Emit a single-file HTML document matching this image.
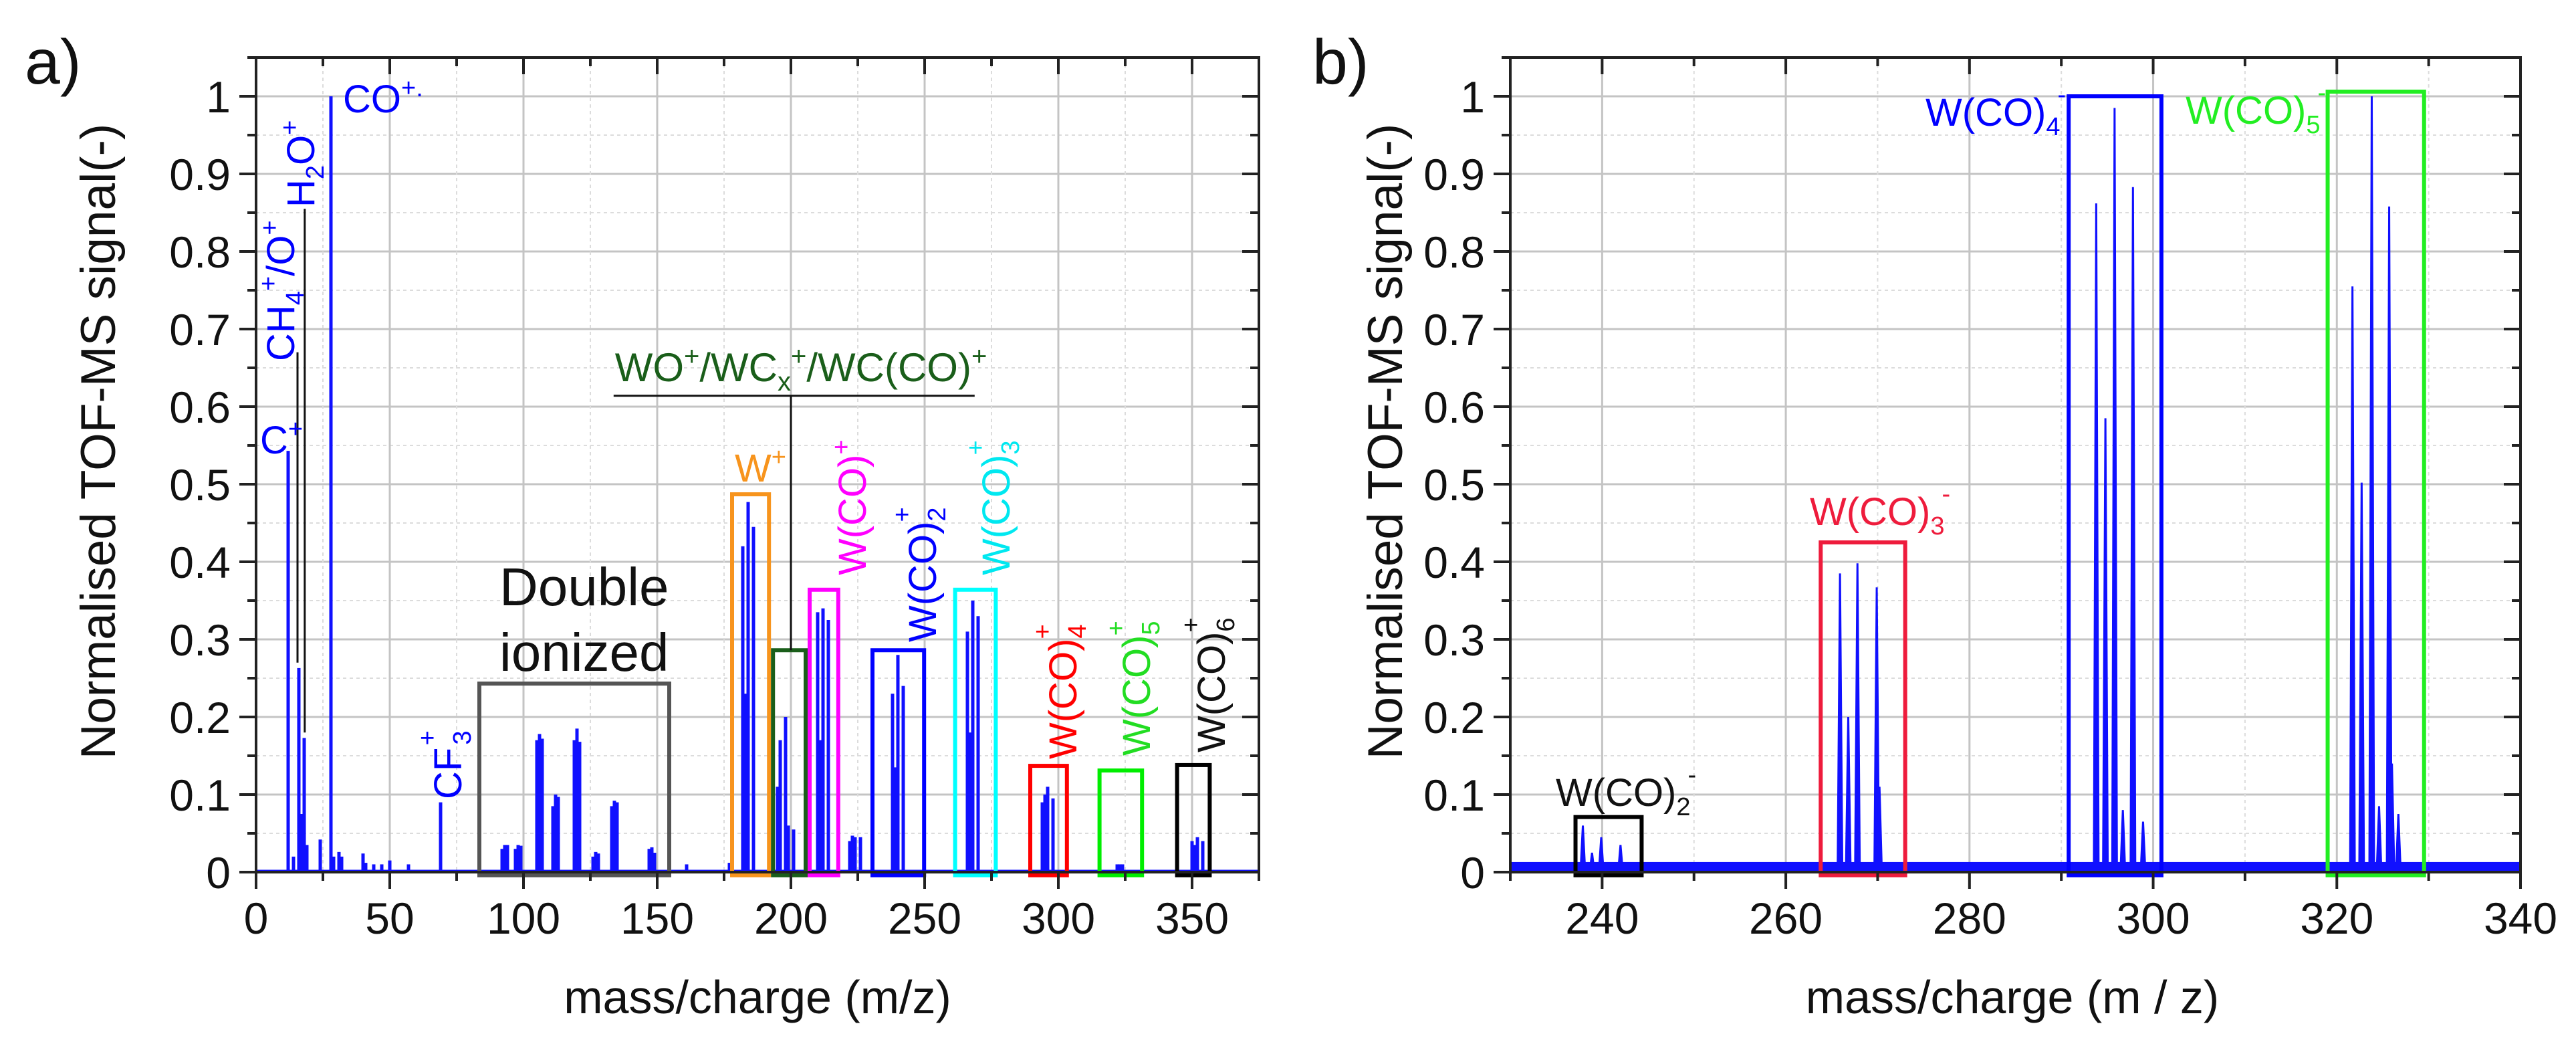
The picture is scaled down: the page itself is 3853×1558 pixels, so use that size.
<!DOCTYPE html>
<html><head><meta charset="utf-8"><style>
html,body{margin:0;padding:0;background:#fff;}
svg{display:block;font-family:"Liberation Sans",Arial,sans-serif;}
</style></head><body>
<svg id="fig" width="3853" height="1558" viewBox="0 0 3853 1558" xmlns="http://www.w3.org/2000/svg">
<g id="panelA"></g>
<g id="panelB"></g>
</svg>
<script>
// ---------- Panel a data ----------
const mzA = [12,14,16,17,18,19,24,28,29,31,32,40,41,44,47,50,57,69,
 92,93,94,97,98,99,105,106,107,111,112,113,119,120,121,126,127,128,133,134,135,147,148,149,161,177,
 182,183,184,186,195,196,198,199,201,210,211,212,214,222,223,224,226,238,239,240,242,
 266,267,268,270,294,295,296,298,322,323,324,350,351,352,354];
const intA = [0.543,0.02,0.263,0.075,0.173,0.035,0.042,1.0,0.02,0.026,0.02,0.024,0.012,0.01,0.01,0.015,0.01,0.09,
 0.03,0.035,0.035,0.03,0.035,0.034,0.17,0.178,0.172,0.085,0.1,0.097,0.17,0.185,0.168,0.02,0.026,0.024,0.085,0.092,0.09,0.03,0.032,0.025,0.01,0.012,
 0.42,0.23,0.477,0.445,0.11,0.17,0.2,0.06,0.055,0.335,0.17,0.34,0.325,0.04,0.047,0.045,0.045,0.23,0.135,0.28,0.24,
 0.31,0.18,0.35,0.33,0.09,0.1,0.11,0.095,0.01,0.01,0.01,0.04,0.035,0.045,0.04];
const xTicksA = [0,50,100,150,200,250,300,350];
const yTicks = [0,0.1,0.2,0.3,0.4,0.5,0.6,0.7,0.8,0.9,1];
const yTickLabels = ["0","0.1","0.2","0.3","0.4","0.5","0.6","0.7","0.8","0.9","1"];
const boxNamesA = ["double-ionized-box","w-plus-box","wo-wc-box","wco-plus-box","wco2-plus-box","wco3-plus-box","wco4-plus-box","wco5-plus-box","wco6-plus-box"];
const boxStartA = [83.5,178,193.3,207,230.5,261.4,289.5,315.4,344.4];
const boxEndA = [154.5,191.8,205.5,217.7,249.8,276.6,303.2,331.3,356.6];
const boxTopA = [0.243,0.487,0.286,0.364,0.286,0.364,0.137,0.131,0.138];
const boxColA = ["#555555","#f7941d","#1a5e1a","#ff00ff","#0000ff","#00ffff","#ff0000","#00ee00","#000000"];

// ---------- Panel b data ----------
const mzB = [237.9,238.9,239.9,242,265.9,266.8,267.8,269.9,270.2,293.8,294.8,295.8,296.7,297.8,298.9,321.7,322.7,323.8,324.6,325.7,326.0,326.7];
const intB = [0.06,0.025,0.045,0.035,0.385,0.2,0.398,0.367,0.11,0.862,0.585,0.985,0.08,0.883,0.065,0.755,0.502,1.0,0.085,0.858,0.14,0.075];
const baselineB = 0.013;
const xTicksB = [240,260,280,300,320,340];
const boxNamesB = ["wco2-minus-box","wco3-minus-box","wco4-minus-box","wco5-minus-box"];
const boxStartB = [237.1,263.8,290.8,319.0];
const boxEndB = [244.3,273.0,300.9,329.5];
const boxTopB = [0.071,0.425,1.0,1.006];
const boxColB = ["#000000","#ee1c3c","#0000ff","#22ee22"];

const NS="http://www.w3.org/2000/svg";
const Y0=1304, YPX=1160, YTOP=1304-1.05*1160;
function yS(v){return Y0 - v*YPX;}
const axA={x0:383,x1:1883,min:0,max:375};
const axB={x0:2259,x1:3770,min:230,max:340};
function xS(ax,m){return ax.x0+(m-ax.min)/(ax.max-ax.min)*(ax.x1-ax.x0);}
function mk(parent,tag,attrs,name,txt){
  const e=document.createElementNS(NS,tag);
  for(const k in attrs)e.setAttribute(k,attrs[k]);
  
  
  if(txt!==undefined)e.textContent=txt;
  parent.appendChild(e);return e;
}
function axes(g,ax,xt,xminor){
  yTicks.forEach(v=>{mk(g,'line',{x1:ax.x0,x2:ax.x1,y1:yS(v),y2:yS(v),stroke:'#c4c4c4','stroke-width':3},'y-gridline');});
  for(let v=0.05;v<1.05;v+=0.1){mk(g,'line',{x1:ax.x0,x2:ax.x1,y1:yS(v),y2:yS(v),stroke:'#dcdcdc','stroke-width':2,'stroke-dasharray':'5 5'},'y-minor-gridline');}
  xt.forEach(m=>{mk(g,'line',{x1:xS(ax,m),x2:xS(ax,m),y1:YTOP,y2:Y0,stroke:'#c4c4c4','stroke-width':3},'x-gridline');});
  xminor.forEach(m=>{mk(g,'line',{x1:xS(ax,m),x2:xS(ax,m),y1:YTOP,y2:Y0,stroke:'#dcdcdc','stroke-width':2,'stroke-dasharray':'5 5'},'x-minor-gridline');});
}
function frame(g,ax,xt,xminor){
  mk(g,'rect',{x:ax.x0,y:YTOP,width:ax.x1-ax.x0,height:Y0-YTOP,fill:'none',stroke:'#222','stroke-width':4},'plot-frame');
  yTicks.forEach((v,i)=>{
    mk(g,'line',{x1:ax.x0-25,x2:ax.x0,y1:yS(v),y2:yS(v),stroke:'#222','stroke-width':4},'y-tick');
    mk(g,'line',{x1:ax.x1-25,x2:ax.x1,y1:yS(v),y2:yS(v),stroke:'#222','stroke-width':4},'y-tick-right');
    mk(g,'text',{x:ax.x0-38,y:yS(v)+24,'font-size':66,'text-anchor':'end',fill:'#111'},'y-tick-label',yTickLabels[i]);
  });
  for(let v=0.05;v<1.05;v+=0.1){
    mk(g,'line',{x1:ax.x0-13,x2:ax.x0,y1:yS(v),y2:yS(v),stroke:'#222','stroke-width':4},'y-minor-tick');
    mk(g,'line',{x1:ax.x1-13,x2:ax.x1,y1:yS(v),y2:yS(v),stroke:'#222','stroke-width':4},'y-minor-tick-right');
  }
  xt.forEach(m=>{
    mk(g,'line',{x1:xS(ax,m),x2:xS(ax,m),y1:Y0,y2:Y0+25,stroke:'#222','stroke-width':4},'x-tick');
    mk(g,'line',{x1:xS(ax,m),x2:xS(ax,m),y1:YTOP,y2:YTOP+25,stroke:'#222','stroke-width':4},'x-tick-top');
    mk(g,'text',{x:xS(ax,m),y:Y0+92,'font-size':66,'text-anchor':'middle',fill:'#111'},'x-tick-label',String(m));
  });
  xminor.forEach(m=>{
    mk(g,'line',{x1:xS(ax,m),x2:xS(ax,m),y1:Y0,y2:Y0+13,stroke:'#222','stroke-width':4},'x-minor-tick');
    mk(g,'line',{x1:xS(ax,m),x2:xS(ax,m),y1:YTOP,y2:YTOP+13,stroke:'#222','stroke-width':4},'x-minor-tick-top');
  });
}
const gA=document.getElementById('panelA'), gB=document.getElementById('panelB');
const minorA=[25,75,125,175,225,275,325,375], minorB=[230,250,270,290,310,330];
axes(gA,axA,xTicksA,minorA); axes(gB,axB,xTicksB,minorB);

mk(gA,'line',{x1:xS(axA,0),x2:xS(axA,375),y1:yS(0)-1,y2:yS(0)-1,stroke:'#1010ff','stroke-width':5},'spectrum-baseline');
mzA.forEach((m,i)=>{
  mk(gA,'line',{x1:xS(axA,m),x2:xS(axA,m),y1:yS(0),y2:yS(intA[i]),stroke:'#1010ff','stroke-width':5},'spectrum-peak');
});
boxStartA.forEach((s,i)=>{
  const x=xS(axA,s), w=xS(axA,boxEndA[i])-x;
  mk(gA,'rect',{x:x,y:yS(boxTopA[i]),width:w,height:yS(-0.004)-yS(boxTopA[i]),fill:'none',stroke:boxColA[i],'stroke-width':6},boxNamesA[i]);
});
mk(gB,'rect',{x:axB.x0,y:yS(baselineB),width:axB.x1-axB.x0,height:yS(0)-yS(baselineB),fill:'#1010ff'},'spectrum-baseline');
mzB.forEach((m,i)=>{
  const x=xS(axB,m), h=3.5;
  mk(gB,'polygon',{points:`${x-h},${yS(0)} ${x},${yS(intB[i])} ${x+h},${yS(0)}`,fill:'#1010ff',stroke:'#1010ff','stroke-width':3,'stroke-linejoin':'miter'},'spectrum-peak');
});
boxStartB.forEach((s,i)=>{
  const x=xS(axB,s), w=xS(axB,boxEndB[i])-x;
  mk(gB,'rect',{x:x,y:yS(boxTopB[i]),width:w,height:yS(-0.004)-yS(boxTopB[i]),fill:'none',stroke:boxColB[i],'stroke-width':6},boxNamesB[i]);
});
frame(gA,axA,xTicksA,minorA); frame(gB,axB,xTicksB,minorB);

mk(gA,'line',{x1:xS(axA,133.7),x2:xS(axA,268.7),y1:yS(0.614),y2:yS(0.614),stroke:'#111','stroke-width':3},'wo-bracket-line');
mk(gA,'line',{x1:xS(axA,200),x2:xS(axA,200),y1:yS(0.614),y2:yS(0.286),stroke:'#111','stroke-width':3},'wo-pointer-line');
mk(gA,'line',{x1:xS(axA,15.5),x2:xS(axA,15.5),y1:yS(0.67),y2:yS(0.27),stroke:'#111','stroke-width':3},'ch4-pointer-line');
mk(gA,'line',{x1:xS(axA,18.2),x2:xS(axA,18.2),y1:yS(0.855),y2:yS(0.18),stroke:'#111','stroke-width':3},'h2o-pointer-line');
</script>
<svg style="position:absolute;left:0;top:0" width="3853" height="1558" viewBox="0 0 3853 1558" xmlns="http://www.w3.org/2000/svg" font-family="Liberation Sans, Arial, sans-serif">
<text x="37" y="125" font-size="95" fill="#111">a)</text>
<text x="1963" y="125" font-size="95" fill="#111">b)</text>
<text transform="translate(172,660) rotate(-90)" text-anchor="middle" font-size="73" fill="#111">Normalised TOF-MS signal(-)</text>
<text transform="translate(2097,660) rotate(-90)" text-anchor="middle" font-size="73" fill="#111">Normalised TOF-MS signal(-)</text>
<text x="1133" y="1515" text-anchor="middle" font-size="70" fill="#111">mass/charge (m/z)</text>
<text x="3010" y="1515" text-anchor="middle" font-size="70" fill="#111">mass/charge (m / z)</text>

<g fill="#0000ff" font-size="58">
<text x="389" y="678">C<tspan font-size="38" dy="-24">+</tspan></text>
<text x="513" y="168">CO<tspan font-size="38" dy="-24">+.</tspan></text>
<text transform="translate(440,540) rotate(-90)">CH<tspan font-size="38" dy="14">4</tspan><tspan font-size="38" dy="-40">+</tspan><tspan dy="26">/O</tspan><tspan font-size="38" dy="-24">+</tspan></text>
<text transform="translate(470,310) rotate(-90)">H<tspan font-size="38" dy="14">2</tspan><tspan dy="-14">O</tspan><tspan font-size="38" dy="-24">+</tspan></text>
<text transform="translate(690,1195) rotate(-90)">CF<tspan font-size="38" dx="4" dy="14">3</tspan><tspan font-size="38" dx="-22" dy="-52">+</tspan></text>
</g>
<text x="1099" y="720" font-size="58" fill="#f7941d">W<tspan font-size="38" dy="-24">+</tspan></text>
<text transform="translate(1295,860) rotate(-90)" font-size="58" fill="#ff00ff">W(CO)<tspan font-size="38" dy="-24">+</tspan></text>
<text transform="translate(1400,960) rotate(-90)" font-size="58" fill="#0000ff">W(CO)<tspan font-size="38" dy="14">2</tspan><tspan font-size="38" dx="-22" dy="-52">+</tspan></text>
<text transform="translate(1510,860) rotate(-90)" font-size="58" fill="#00e8f0">W(CO)<tspan font-size="38" dy="14">3</tspan><tspan font-size="38" dx="-22" dy="-52">+</tspan></text>
<text transform="translate(1610,1135) rotate(-90)" font-size="58" fill="#ff0000">W(CO)<tspan font-size="38" dy="14">4</tspan><tspan font-size="38" dx="-22" dy="-52">+</tspan></text>
<text transform="translate(1720,1130) rotate(-90)" font-size="58" fill="#22dd22">W(CO)<tspan font-size="38" dy="14">5</tspan><tspan font-size="38" dx="-22" dy="-52">+</tspan></text>
<text transform="translate(1832,1125) rotate(-90)" font-size="58" fill="#111">W(CO)<tspan font-size="38" dy="14">6</tspan><tspan font-size="38" dx="-22" dy="-52">+</tspan></text>
<text x="1198" y="570" text-anchor="middle" font-size="60" fill="#1a5e1a">WO<tspan font-size="40" dy="-24">+</tspan><tspan dy="24">/WC</tspan><tspan font-size="40" dy="14">x</tspan><tspan font-size="40" dy="-38">+</tspan><tspan dy="24">/WC(CO)</tspan><tspan font-size="40" dy="-24">+</tspan></text>
<text x="747" y="905" font-size="80" fill="#111">Double</text>
<text x="747" y="1003" font-size="80" fill="#111">ionized</text>

<text x="2327" y="1205" font-size="58" fill="#111">W(CO)<tspan font-size="38" dy="14">2</tspan><tspan font-size="38" dx="-4" dy="-48">-</tspan></text>
<text x="2707" y="785" font-size="58" fill="#ee1c3c">W(CO)<tspan font-size="38" dy="14">3</tspan><tspan font-size="38" dx="-4" dy="-48">-</tspan></text>
<text x="2880" y="188" font-size="58" fill="#0000ff">W(CO)<tspan font-size="38" dy="14">4</tspan><tspan font-size="38" dx="-4" dy="-48">-</tspan></text>
<text x="3269" y="185" font-size="58" fill="#22ee22">W(CO)<tspan font-size="38" dy="14">5</tspan><tspan font-size="38" dx="-4" dy="-48">-</tspan></text>
</svg>
</body></html>
